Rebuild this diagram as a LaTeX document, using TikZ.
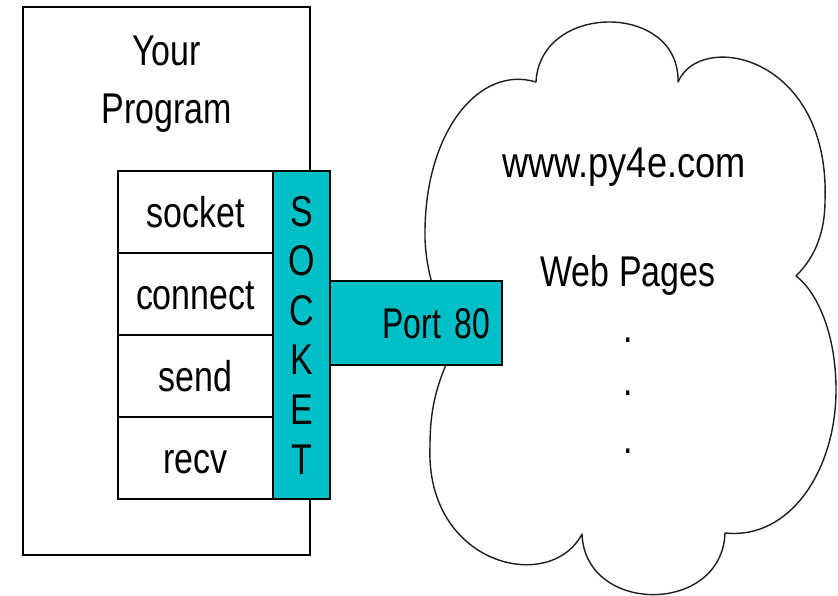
\documentclass[tikz,border=0pt]{standalone}
\usepackage{fontspec}
\setmainfont[FakeStretch=0.79]{Liberation Sans}
\usetikzlibrary{positioning}
\definecolor{sockteal}{RGB}{0, 191, 198}
\definecolor{cloudline}{RGB}{30, 30, 30}

\begin{document}
\begin{tikzpicture}[x=1pt, y=-1pt,
    big/.style={font=\fontsize{43}{49.6}\selectfont},
    progbox/.style={draw, line width=2pt, minimum width=287pt,
                    minimum height=548pt, outer sep=0pt},
    fnbox/.style={draw, line width=2pt, fill=white, minimum width=155pt,
                  minimum height=82pt, inner sep=0pt, outer sep=0pt,
                  text height=31pt, text depth=0pt, big},
    sockstrip/.style={draw, line width=2pt, fill=sockteal, minimum width=57pt,
                      minimum height=328pt, inner sep=0pt, outer sep=0pt,
                      align=center, big},
    portbox/.style={draw, line width=2pt, fill=sockteal, minimum height=84pt,
                    text width=148pt, align=right, inner xsep=12pt, inner ysep=0pt,
                    outer sep=0pt, text height=31pt, text depth=0pt, big},
    lbl/.style={big, inner sep=0pt, anchor=base},
    cloud/.style={draw=cloudline, line width=1.4pt, line join=round}
  ]
    \useasboundingbox (0,0) rectangle (838,596);

    % the program side
    \node[progbox] (prog) at (166.5, 281) {};
    \node[lbl] (your) at (166.5, 66) {Your};
    \node[lbl] (program) at (166.5, 124) {Program};

    \node[fnbox] (fsocket) at (195.5, 212) {socket};
    \node[fnbox, below=0pt of fsocket] (fconnect) {connect};
    \node[fnbox, below=0pt of fconnect] (fsend) {send};
    \node[fnbox, below=0pt of fsend] (frecv) {recv};

    % the web side, one bump at a time
    \draw[cloud] (452,330) .. controls (436,305) and (424,265) .. (425,230)
      .. controls (426,130) and (480,65) .. (536,82)
      .. controls (540,2) and (680,2) .. (678,82)
      .. controls (700,30) and (830,55) .. (825,200)
      .. controls (825,240) and (810,262) .. (796,276)
      .. controls (815,290) and (836,330) .. (836,390)
      .. controls (836,470) and (790,540) .. (725,533)
      .. controls (722,615) and (585,615) .. (582,534)
      .. controls (550,595) and (425,565) .. (430,446)
      .. controls (430,405) and (438,380) .. (455,345) -- cycle;

    \node[lbl] (site) at (624, 178) {\scalebox{1.066}[1]{www.py4e.com}};
    \node[lbl] (pages) at (628, 286) {Web Pages};
    \node[lbl] (dot1) at (628, 342) {.};
    \node[lbl] (dot2) at (628, 395) {.};
    \node[lbl] (dot3) at (628, 453) {.};

    % the socket and its port
    \node[sockstrip, anchor=north west] (sock) at (fsocket.north east)
      {S\\O\\C\\K\\E\\T};
    \node[portbox, anchor=west] (port) at ([yshift=12pt]sock.east)
      {\scalebox{0.94}[1]{Port 80}};
  \end{tikzpicture}
\end{document}
